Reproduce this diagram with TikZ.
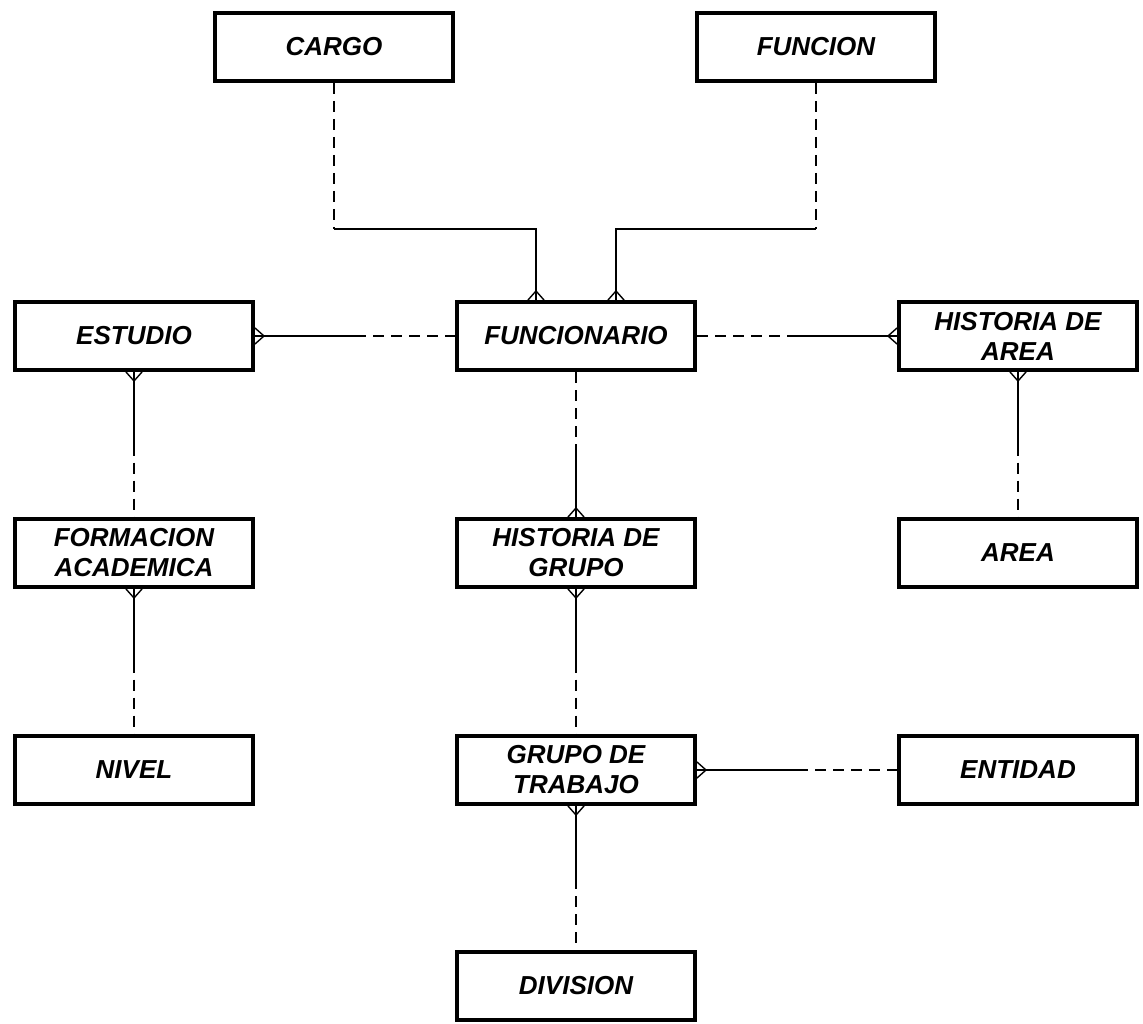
\documentclass[tikz,border=0pt]{standalone}
\usepackage{fontspec}
\setmainfont{Liberation Sans}
\usetikzlibrary{calc}
\tikzset{
  entity/.style={draw=black, line width=4pt, minimum width=238pt, minimum height=68pt,
    align=center, inner sep=0pt, font=\fontsize{26}{30}\selectfont\bfseries\itshape},
  rel/.style={line width=1.4pt, black},
  reldash/.style={line width=1.4pt, black, dash pattern=on 11pt off 7pt},
  crowfoot/.pic={\draw[line width=1.4pt] (-8pt,0pt) -- (0pt,9pt) -- (8pt,0pt);}
}
\begin{document}
\begin{tikzpicture}[x=1pt,y=1pt]
\useasboundingbox (0,0) rectangle (1143,-1024);
% entities
\node[entity] (cargo) at (334,-47) {CARGO};
\node[entity] (funcion) at (816,-47) {FUNCION};
\node[entity] (estudio) at (134,-336) {ESTUDIO};
\node[entity] (funcionario) at (576,-336) {FUNCIONARIO};
\node[entity] (hArea) at (1018,-336) {HISTORIA DE\\AREA};
\node[entity] (formacion) at (134,-553) {FORMACION\\ACADEMICA};
\node[entity] (hGrupo) at (576,-553) {HISTORIA DE\\GRUPO};
\node[entity] (area) at (1018,-553) {AREA};
\node[entity] (nivel) at (134,-770) {NIVEL};
\node[entity] (grupo) at (576,-770) {GRUPO DE\\TRABAJO};
\node[entity] (entidad) at (1018,-770) {ENTIDAD};
\node[entity] (division) at (576,-986) {DIVISION};

% CARGO - FUNCIONARIO
\coordinate (fa) at ($(funcionario.north)+(-40,0)$);
\coordinate (fb) at ($(funcionario.north)+(40,0)$);
\coordinate (ca) at ($(cargo.south)+(0,-146)$);
\coordinate (fc) at ($(funcion.south)+(0,-146)$);
\draw[reldash] (cargo.south) -- (ca);
\draw[rel] (ca) -| (fa);
\pic at (fa) {crowfoot};
% FUNCION - FUNCIONARIO
\draw[reldash] (funcion.south) -- (fc);
\draw[rel] (fc) -| (fb);
\pic at (fb) {crowfoot};

% ESTUDIO - FUNCIONARIO
\coordinate (m1) at ($(estudio.east)!0.5!(funcionario.west)$);
\draw[rel] (estudio.east) -- (m1);
\draw[reldash] (m1) -- (funcionario.west);
\pic[rotate=-90] at (estudio.east) {crowfoot};

% FUNCIONARIO - HISTORIA DE AREA
\coordinate (m2) at ($(funcionario.east)!0.5!(hArea.west)$);
\draw[reldash] (funcionario.east) -- (m2);
\draw[rel] (m2) -- (hArea.west);
\pic[rotate=90] at (hArea.west) {crowfoot};

% ESTUDIO - FORMACION
\coordinate (m3) at ($(estudio.south)!0.5!(formacion.north)$);
\draw[rel] (estudio.south) -- (m3);
\draw[reldash] (m3) -- (formacion.north);
\pic[rotate=180] at (estudio.south) {crowfoot};

% FUNCIONARIO - HISTORIA DE GRUPO
\coordinate (m4) at ($(funcionario.south)!0.5!(hGrupo.north)$);
\draw[reldash] (funcionario.south) -- (m4);
\draw[rel] (m4) -- (hGrupo.north);
\pic at (hGrupo.north) {crowfoot};

% HISTORIA DE AREA - AREA
\coordinate (m5) at ($(hArea.south)!0.5!(area.north)$);
\draw[rel] (hArea.south) -- (m5);
\draw[reldash] (m5) -- (area.north);
\pic[rotate=180] at (hArea.south) {crowfoot};

% FORMACION - NIVEL
\coordinate (m6) at ($(formacion.south)!0.5!(nivel.north)$);
\draw[rel] (formacion.south) -- (m6);
\draw[reldash] (m6) -- (nivel.north);
\pic[rotate=180] at (formacion.south) {crowfoot};

% HISTORIA DE GRUPO - GRUPO
\coordinate (m7) at ($(hGrupo.south)!0.5!(grupo.north)$);
\draw[rel] (hGrupo.south) -- (m7);
\draw[reldash] (m7) -- (grupo.north);
\pic[rotate=180] at (hGrupo.south) {crowfoot};

% GRUPO - ENTIDAD
\coordinate (m8) at ($(grupo.east)!0.5!(entidad.west)$);
\draw[rel] (grupo.east) -- (m8);
\draw[reldash] (m8) -- (entidad.west);
\pic[rotate=-90] at (grupo.east) {crowfoot};

% GRUPO - DIVISION
\coordinate (m9) at ($(grupo.south)!0.5!(division.north)$);
\draw[rel] (grupo.south) -- (m9);
\draw[reldash] (m9) -- (division.north);
\pic[rotate=180] at (grupo.south) {crowfoot};
\end{tikzpicture}
\end{document}
